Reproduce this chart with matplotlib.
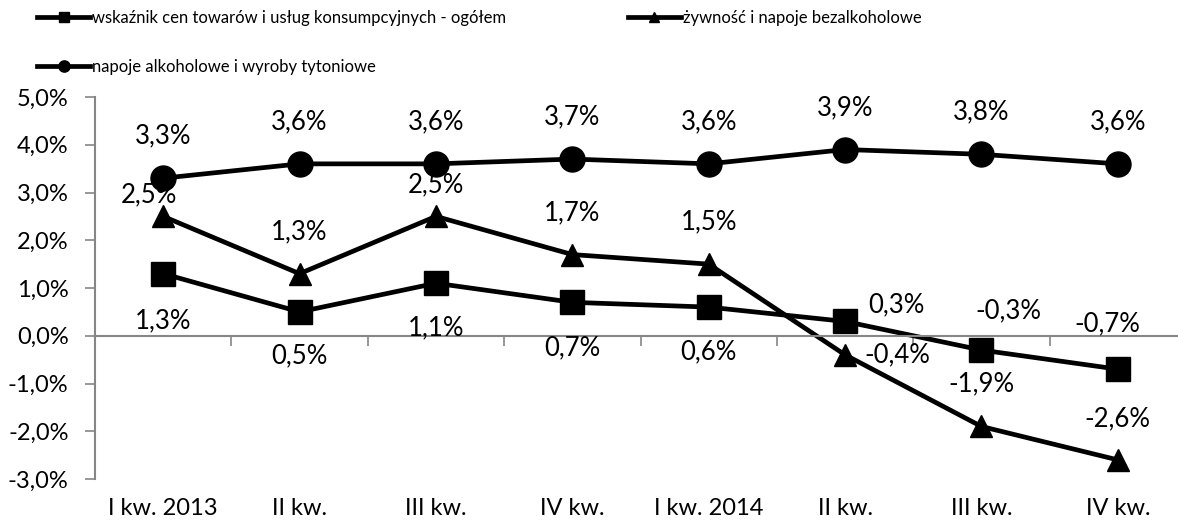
import numpy as np
import matplotlib
matplotlib.use("Agg")
import matplotlib.pyplot as plt

plt.rcParams['font.family'] = ['Lato', 'DejaVu Sans']

# data
categories = ["I kw. 2013", "II kw.", "III kw.", "IV kw.", "I kw. 2014", "II kw.", "III kw.", "IV kw."]
ogolem = [1.3, 0.5, 1.1, 0.7, 0.6, 0.3, -0.3, -0.7]
zywnosc = [2.5, 1.3, 2.5, 1.7, 1.5, -0.4, -1.9, -2.6]
alkohol = [3.3, 3.6, 3.6, 3.7, 3.6, 3.9, 3.8, 3.6]

names = ["wskaźnik cen towarów i usług konsumpcyjnych - ogółem",
         "żywność i napoje bezalkoholowe",
         "napoje alkoholowe i wyroby tytoniowe"]

# label offsets in pixels (dx, dy up)
off_ogolem = [(0, -47), (0, -44), (0, -45), (0, -45), (0, -45), (51, 17), (27, 39), (-10, 45)]
off_zywnosc = [(-14, 22), (0, 42), (0, 32), (0, 42), (0, 42), (52, 0), (0, 43), (0, 41)]
off_alkohol = [(0, 42)] * 8

def fmt(v):
    return ("%.1f%%" % v).replace(".", ",")

fig = plt.figure(figsize=(11.78, 5.25), dpi=100)
ax = fig.add_axes([95 / 1178, 46 / 525, 1091 / 1178, 382 / 525])

x = np.arange(len(categories))
lw = 3.4
l1, = ax.plot(x, ogolem, color='black', lw=lw, marker='s', markersize=17, label=names[0])
l2, = ax.plot(x, zywnosc, color='black', lw=lw, marker='^', markersize=16, label=names[1])
l3, = ax.plot(x, alkohol, color='black', lw=lw, marker='o', markersize=18, label=names[2])

px = 0.72
for vals, offs in [(ogolem, off_ogolem), (zywnosc, off_zywnosc), (alkohol, off_alkohol)]:
    for i, v in enumerate(vals):
        dx, dy = offs[i]
        ax.annotate(fmt(v), (x[i], v), xytext=(dx * px, dy * px), textcoords='offset points',
                    ha='center', va='center', fontsize=18.5)

ax.set_xlim(-0.5, len(categories) - 0.5)
ax.set_ylim(-3.0, 5.0)
yt = np.arange(-3, 5.1, 1)
ax.set_yticks(yt)
ax.set_yticklabels([fmt(v) for v in yt], fontsize=17)
ax.tick_params(axis='y', length=7, width=1.2, color='#868686', pad=12)

for s in ['top', 'right']:
    ax.spines[s].set_visible(False)
ax.spines['left'].set_color('#868686')
ax.spines['left'].set_linewidth(1.5)
ax.spines['bottom'].set_position(('data', 0))
ax.spines['bottom'].set_color('#868686')
ax.spines['bottom'].set_linewidth(1.5)
ax.set_xticks(np.arange(len(categories) + 1) - 0.5)
ax.set_xticklabels([])
ax.tick_params(axis='x', length=7, width=1.2, color='#868686')

sec = ax.secondary_xaxis('bottom')
sec.set_xticks(x)
sec.set_xticklabels(categories, fontsize=17)
sec.tick_params(length=0, pad=14)
sec.spines['bottom'].set_visible(False)

leg = fig.legend([l1, l3, l2], [names[0], names[2], names[1]], ncol=2,
                 loc='upper left', bbox_to_anchor=(22 / 1178, 1.01), frameon=False,
                 fontsize=12, markerscale=0.45, handlelength=3.2, handletextpad=0.1,
                 columnspacing=7.3, labelspacing=2.0)

fig.savefig("out.png", dpi=100)
